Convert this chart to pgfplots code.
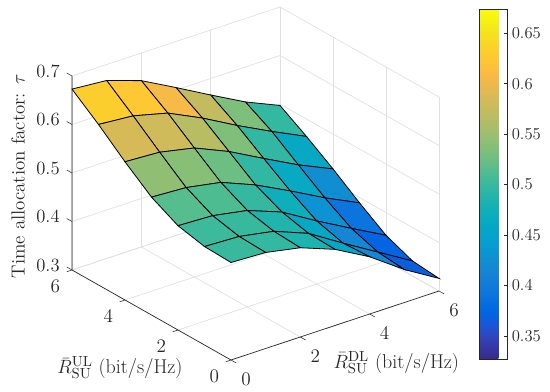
\documentclass[border=0pt]{standalone}
\usepackage{pgfplots}
\pgfplotsset{compat=1.18}
\definecolor{axc}{rgb}{0.15,0.15,0.15}
\definecolor{grc}{rgb}{0.88,0.88,0.88}
\pgfplotsset{colormap={parula}{
rgb=(0.2081,0.1663,0.5292) rgb=(0.2123,0.2138,0.6270) rgb=(0.1959,0.2645,0.7279) rgb=(0.1253,0.3242,0.8303)
rgb=(0.0117,0.3875,0.8820) rgb=(0.0165,0.4266,0.8786) rgb=(0.0498,0.4586,0.8641) rgb=(0.0723,0.4887,0.8467)
rgb=(0.0793,0.5200,0.8312) rgb=(0.0641,0.5570,0.8240) rgb=(0.0343,0.5966,0.8199) rgb=(0.0239,0.6287,0.8038)
rgb=(0.0228,0.6535,0.7768) rgb=(0.0384,0.6743,0.7436) rgb=(0.0843,0.6928,0.7062) rgb=(0.1453,0.7098,0.6646)
rgb=(0.2178,0.7250,0.6193) rgb=(0.3022,0.7376,0.5712) rgb=(0.3953,0.7459,0.5244) rgb=(0.4871,0.7491,0.4840)
rgb=(0.5709,0.7485,0.4494) rgb=(0.6473,0.7456,0.4188) rgb=(0.7184,0.7411,0.3905) rgb=(0.7858,0.7356,0.3633)
rgb=(0.8507,0.7299,0.3360) rgb=(0.9139,0.7258,0.3063) rgb=(0.9739,0.7314,0.2666) rgb=(0.9990,0.7653,0.2164)
rgb=(0.9880,0.8066,0.1794) rgb=(0.9697,0.8481,0.1475) rgb=(0.9589,0.8949,0.1132) rgb=(0.9661,0.9514,0.0755)
rgb=(0.9763,0.9831,0.0538)}}
\pgfplotstableread{
x y z
0 0 .501
1 0 .498
2 0 .484
3 0 .457
4 0 .418
5 0 .368
6 0 .326

0 1 .503
1 1 .500
2 1 .487
3 1 .459
4 1 .415
5 1 .373
6 1 .331

0 2 .515
1 2 .512
2 2 .499
3 2 .472
4 2 .430
5 2 .391
6 2 .353

0 3 .543
1 3 .539
2 3 .526
3 3 .497
4 3 .461
5 3 .423
6 3 .389

0 4 .585
1 4 .581
2 4 .566
3 4 .535
4 4 .497
5 4 .460
6 4 .428

0 5 .631
1 5 .625
2 5 .607
3 5 .573
4 5 .534
5 5 .498
6 5 .464

0 6 .673
1 6 .667
2 6 .643
3 6 .605
4 6 .566
5 6 .528
6 6 .497
}\surfdata
\begin{document}
\begin{tikzpicture}
\begin{axis}[name=ax,clip=false,
  x={(26pt,8.625pt)}, y={(-19.875pt,11.25pt)}, z={(0pt,363.75pt)},
  xmin=0,xmax=6,ymin=0,ymax=6,zmin=0.3,zmax=0.7,
  xtick={0,2,4,6},ytick={0,2,4,6},ztick={0.3,0.4,0.5,0.6,0.7},
  scaled ticks=false,
  zticklabels={0.3,0.4,0.5,0.6,0.7},
  grid=major, grid style={grc,line width=0.5pt},
  axis line style={draw=none},
  major tick length=0pt,
  xtick pos=left,ytick pos=left,ztick pos=left,
  every tick label/.append style={text=axc,font=\fontsize{14}{16}\selectfont},
  xticklabel style={anchor=center,xshift=11.25pt,yshift=-14.75pt},
  yticklabel style={anchor=center,xshift=-12.5pt,yshift=-12.5pt},
  zticklabel style={anchor=center,xshift=-18pt,yshift=3.5pt},
  xlabel={$\bar{R}_{\mathrm{SU}}^{\mathrm{DL}}$ (bit/s/Hz)},
  ylabel={$\bar{R}_{\mathrm{SU}}^{\mathrm{UL}}$ (bit/s/Hz)},
  zlabel={Time allocation factor: $\tau$},
  label style={text=axc,font=\fontsize{15}{17}\selectfont},
  xlabel style={at={(axis cs:4.77,0,0.1825)},anchor=center,rotate=0,sloped like x axis=false},
  ylabel style={at={(axis cs:0,4.19,0.154)},anchor=center,rotate=0,sloped like y axis=false},
  zlabel style={at={(axis cs:0,8.04,0.43)},anchor=center,rotate=0,font=\fontsize{14.2}{16}\selectfont},
  colormap name=parula,
  point meta min=0.327, point meta max=0.674,
  colorbar,
  colorbar style={
    at={(parent axis.south east)},anchor=south west,xshift=21.75pt,yshift=0.75pt,
    width=20.8pt,height=262.5pt,
    ytick={0.35,0.4,0.45,0.5,0.55,0.6,0.65},
    yticklabels={0.35,0.4,0.45,0.5,0.55,0.6,0.65},
    axis line style={draw=axc,line width=0.5pt},
    tick style={axc,line width=0.4pt},
    major tick length=2.5pt,
    tick align=inside,
    ytick pos=right,
    yticklabel style={text=axc,font=\fontsize{12.5}{15}\selectfont},
  },
]
\addplot3[surf,shader=flat corner,draw=black,line width=0.6pt,z buffer=sort,mesh/rows=7,mesh/cols=7,point meta=\thisrow{z}] table[x=x,y=y,z=z] {\surfdata};
\draw[axc,line width=0.5pt] (axis cs:0,6,0.7) -- (axis cs:0,6,0.3) -- (axis cs:0,0,0.3) -- (axis cs:6,0,0.3);
\draw[axc,line width=0.4pt]
  (axis cs:0,0,0.3)--(axis cs:0,-0.2,0.3) (axis cs:2,0,0.3)--(axis cs:2,-0.2,0.3)
  (axis cs:4,0,0.3)--(axis cs:4,-0.2,0.3) (axis cs:6,0,0.3)--(axis cs:6,-0.2,0.3)
  (axis cs:0,0,0.3)--(axis cs:-0.15,0,0.3) (axis cs:0,2,0.3)--(axis cs:-0.15,2,0.3)
  (axis cs:0,4,0.3)--(axis cs:-0.15,4,0.3) (axis cs:0,6,0.3)--(axis cs:-0.15,6,0.3)
  (axis cs:0,6,0.3)--(axis cs:0,6.2,0.3) (axis cs:0,6,0.4)--(axis cs:0,6.2,0.4)
  (axis cs:0,6,0.5)--(axis cs:0,6.2,0.5) (axis cs:0,6,0.6)--(axis cs:0,6.2,0.6)
  (axis cs:0,6,0.7)--(axis cs:0,6.2,0.7);
\end{axis}
\pgfresetboundingbox
\useasboundingbox ([shift={(-54pt,-24pt)}]ax.south west) rectangle +(412.5pt,294pt);
\end{tikzpicture}
\end{document}
